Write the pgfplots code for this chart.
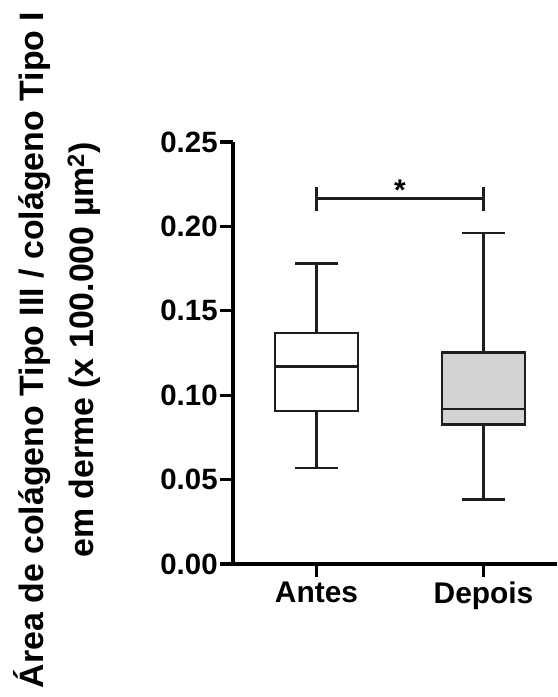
\documentclass[border=0pt]{standalone}
\usepackage{fontspec}
\setmainfont{Liberation Sans}
\usepackage{pgfplots}
\pgfplotsset{compat=1.18}

\definecolor{boxline}{HTML}{1E1E1E}
\definecolor{boxgray}{HTML}{D3D3D3}

\pgfplotsset{
  boxedge/.style={draw=boxline, line width=2.2pt, mark=none, line join=miter, line cap=rect},
}

\begin{document}
\begin{tikzpicture}[x=1bp,y=1bp]
\useasboundingbox (0,0) rectangle (558,697);
\begin{axis}[
  at={(233bp,133bp)}, anchor=south west,
  scale only axis, width=324bp, height=422bp,
  xmin=0.5, xmax=2.44, ymin=0, ymax=0.25,
  enlargelimits=false,
  axis lines=left,
  axis line style={-, line width=3.3pt, black},
  every tick/.style={black, line width=3.3pt},
  tick align=outside,
  major tick length=12.7bp,
  xtick={1,2}, xticklabels={Antes,Depois},
  ytick={0,0.05,0.10,0.15,0.20,0.25},
  /pgf/number format/fixed,
  /pgf/number format/fixed zerofill,
  /pgf/number format/precision=2,
  /pgf/number format/assume math mode=true,
  yticklabel style={font=\fontsize{29.5}{29.5}\selectfont\bfseries, inner sep=2.5bp},
  xticklabel style={font=\fontsize{30}{30}\selectfont\bfseries, inner sep=5bp},
  scaled y ticks=false,
  clip=false,
]
% Antes: whiskers 0.0569 / 0.178, quartiles 0.0908 / 0.137, median 0.117
\addplot[boxedge] coordinates {(1,0.137) (1,0.178)};
\addplot[boxedge] coordinates {(1,0.0908) (1,0.0569)};
\addplot[boxedge] coordinates {(0.875,0.178) (1.125,0.178)};
\addplot[boxedge] coordinates {(0.875,0.0569) (1.125,0.0569)};
\addplot[boxedge, fill=white] coordinates {(0.75,0.0908) (1.25,0.0908) (1.25,0.137) (0.75,0.137) (0.75,0.0908)};
\addplot[boxedge, line cap=butt] coordinates {(0.75,0.117) (1.25,0.117)};
% Depois: whiskers 0.0382 / 0.196, quartiles 0.0826 / 0.1253, median 0.092
\addplot[boxedge] coordinates {(2,0.1253) (2,0.196)};
\addplot[boxedge] coordinates {(2,0.0826) (2,0.0382)};
\addplot[boxedge] coordinates {(1.875,0.196) (2.125,0.196)};
\addplot[boxedge] coordinates {(1.875,0.0382) (2.125,0.0382)};
\addplot[boxedge, fill=boxgray] coordinates {(1.75,0.0826) (2.25,0.0826) (2.25,0.1253) (1.75,0.1253) (1.75,0.0826)};
\addplot[boxedge, line cap=butt] coordinates {(1.75,0.092) (2.25,0.092)};
% significance bracket
\addplot[boxedge, line cap=butt] coordinates {(1,0.2165) (2,0.2165)};
\addplot[boxedge, line cap=butt] coordinates {(1,0.2092) (1,0.2234)};
\addplot[boxedge, line cap=butt] coordinates {(2,0.2092) (2,0.2234)};
\node[anchor=base, inner sep=0pt, font=\fontsize{30}{30}\selectfont\bfseries] at (axis cs:1.5,0.2153) {*};
\end{axis}
\node[rotate=90, anchor=base, inner sep=0pt, font=\fontsize{34}{34}\selectfont\bfseries]
  at (43,347) {Área de colágeno Tipo III / colágeno Tipo I};
\node[rotate=90, anchor=base, inner sep=0pt, font=\fontsize{34}{34}\selectfont\bfseries]
  at (93,347) {em derme (x 100.000 µm\textsuperscript{2})};
\end{tikzpicture}
\end{document}
